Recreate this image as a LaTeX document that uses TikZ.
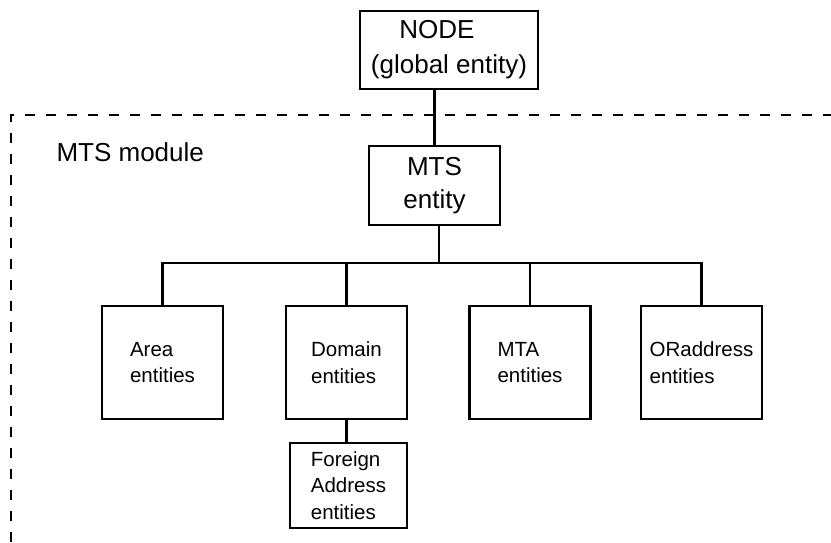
\documentclass[tikz,border=0pt]{standalone}
\usepackage{fontspec}
\setmainfont{Liberation Sans}
\newcommand{\bigfont}{\fontsize{26}{33}\selectfont}
\newcommand{\smallfont}{\fontsize{20.5}{26.5}\selectfont}

\begin{document}
\begin{tikzpicture}[
    x=1pt,
    y=-1pt,
    line width=2.4pt,
    bigbox/.style={draw, align=center, inner sep=0pt, font=\bigfont},
    entbox/.style={draw, align=left, inner sep=0pt, minimum width=121pt, minimum height=113pt, font=\smallfont}
]

\useasboundingbox (0,0) rectangle (831,542);

% Module border
\draw[line width=2pt, dash pattern=on 10pt off 11pt] (11,542) -- (11,115) -- (831,115);
\node[anchor=base west, font=\bigfont] (modlabel) at (52,161) {MTS module};

% Top entities
\node[bigbox, minimum width=178pt, minimum height=78pt] (node) at (449,50)
    {NODE\hspace*{24pt}\\[2pt](global entity)};
\node[bigbox, minimum width=131pt, minimum height=79pt] (mts) at (434.5,185.5) {MTS\\entity};

% Sub entities
\foreach \x/\name/\txt in {162.5/area/Area, 346.5/domain/Domain, 530/mta/MTA, 701.5/oraddr/ORaddress}
    \node[entbox] (\name) at (\x,362.5) {\txt\\entities};
\node[entbox, minimum width=117pt, minimum height=85pt] (foreign) at (348.5,485.5) {Foreign\\Address\\entities};

% Connectors
\coordinate (bus) at (439,263);
\draw (mts.north) -- (mts.north |- node.south);
\draw ([xshift=4.5pt]mts.south) -- ([xshift=4.5pt]mts.south |- bus);
\draw (area.north) |- (bus) -| (oraddr.north);
\draw (domain.north) -- (domain.north |- bus);
\draw (mta.north) -- (mta.north |- bus);
\draw (domain.south) -- (domain.south |- foreign.north);

\end{tikzpicture}
\end{document}
